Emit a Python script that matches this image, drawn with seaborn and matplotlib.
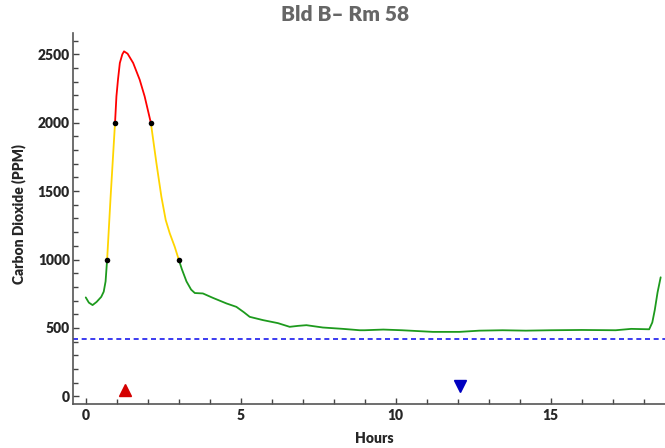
import numpy as np
import pandas as pd
import seaborn as sns
from matplotlib import pyplot as plt
from matplotlib.ticker import MultipleLocator

# CO2 readings (hours, ppm)
hours = [0.0, 0.1, 0.22, 0.35, 0.5, 0.58, 0.64, 0.69, 0.8, 0.945, 0.99, 1.04, 1.1, 1.18,
         1.235, 1.35, 1.53, 1.74, 1.9, 2.1, 2.28, 2.44, 2.58, 2.71, 2.87, 3.0,
         3.1, 3.25, 3.4, 3.52, 3.78, 4.1, 4.54, 4.86, 5.1, 5.29, 5.72, 6.2, 6.58, 6.85, 7.12,
         7.65, 8.3, 8.84, 9.0, 9.6, 10.2, 11.2, 12.06, 12.7, 13.45, 14.2, 15.0,
         16.0, 17.1, 17.6, 18.18, 18.28, 18.36, 18.45, 18.55]
ppm = [723, 685, 667, 690, 727, 765, 840, 1000, 1450, 2000, 2193, 2315, 2437, 2500,
       2522, 2505, 2437, 2315, 2193, 2000, 1705, 1460, 1289, 1192, 1094, 1000,
       930, 840, 780, 755, 752, 720, 679, 654, 615, 581, 557, 535, 508, 515, 520,
       503, 493, 483, 483, 488, 483, 471, 471, 480, 483, 480, 483,
       485, 483, 493, 490, 540, 631, 760, 870]

# threshold crossings (black dots)
cross_hours = [0.69, 0.945, 2.1, 3.0]
cross_ppm = [1000, 2000, 2000, 1000]

outdoor_ppm = 420
arrive = (1.26, 45)
leave = (12.08, 78)

# split the curve into colored pieces at the crossings
rows = []
seg = 0
for h, p in zip(hours, ppm):
    rows.append((h, p, seg))
    if h in cross_hours:
        seg += 1
        rows.append((h, p, seg))
df = pd.DataFrame(rows, columns=["Hours", "PPM", "seg"])
seg_colors = {0: "#1d9a1d", 1: "#ffd500", 2: "#ff0000", 3: "#ffd500", 4: "#1d9a1d"}

sns.set_style("ticks")
plt.rcParams['font.family'] = ['Lato', 'DejaVu Sans']

fig = plt.figure(figsize=(6.65, 4.48), dpi=100)
ax = fig.add_axes([0.1103, 0.0989, 0.8897, 0.828])

sns.lineplot(data=df, x="Hours", y="PPM", hue="seg", palette=seg_colors,
             estimator=None, sort=False, legend=False, linewidth=1.3, ax=ax)
ax.axhline(outdoor_ppm, color="#1a1aee", linestyle=(0, (3, 2.2)), linewidth=1.2)
sns.scatterplot(x=cross_hours, y=cross_ppm, color="black", s=16, linewidth=0, ax=ax, zorder=5)
ax.plot(*arrive, marker="^", color="#d40000", markersize=8, linestyle="none")
ax.plot(*leave, marker="v", color="#0000c0", markersize=8, linestyle="none")

ax.set_xlim(-0.4, 18.69)
ax.set_ylim(-54, 2658)
ax.xaxis.set_major_locator(MultipleLocator(5))
ax.xaxis.set_minor_locator(MultipleLocator(1))
ax.yaxis.set_major_locator(MultipleLocator(500))
ax.yaxis.set_minor_locator(MultipleLocator(100))
ax.tick_params(which="both", direction="in", color="#444444", width=1)
ax.tick_params(which="major", length=4.5)
ax.tick_params(which="minor", length=3.5)
ax.tick_params(axis="y", pad=2.5)
ax.tick_params(axis="x", pad=4)
for lab in ax.get_xticklabels() + ax.get_yticklabels():
    lab.set_fontweight("heavy")
    lab.set_fontsize(10)

for side in ["top", "right"]:
    ax.spines[side].set_visible(False)
for side in ["left", "bottom"]:
    ax.spines[side].set_color("#555555")
    ax.spines[side].set_linewidth(1.2)

ax.set_xlabel("")
ax.set_ylabel("")
fig.text(0.0286, 0.522, "Carbon Dioxide (PPM)", rotation=90, ha="center", va="center",
         fontsize=10, fontweight="heavy")
fig.text(0.5625, 0.021, "Hours", ha="center", va="center", fontsize=10, fontweight="heavy")
fig.text(0.519, 0.967, "Bld B\u2013 Rm 58", ha="center", va="center", fontsize=15,
         fontweight="heavy", color="#666666")

fig.savefig("out.png", dpi=100)
